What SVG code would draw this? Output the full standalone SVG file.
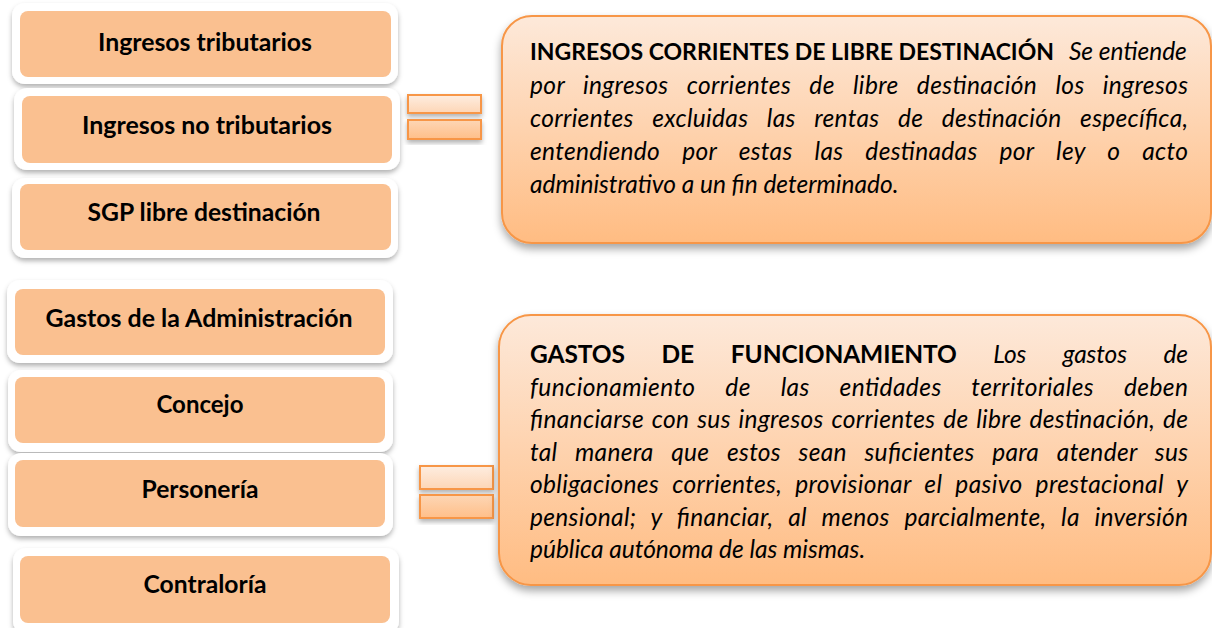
<svg xmlns="http://www.w3.org/2000/svg" width="1212" height="628" viewBox="0 0 1212 628">
<defs>
<linearGradient id="gBig" x1="0" y1="0" x2="0" y2="1"><stop offset="0" stop-color="#FDE9DA"/><stop offset="1" stop-color="#FFBC82"/></linearGradient>
<linearGradient id="gBarA" x1="0" y1="0" x2="0" y2="1"><stop offset="0" stop-color="#FEEDE0"/><stop offset="1" stop-color="#FDD6B6"/></linearGradient>
<linearGradient id="gBarB" x1="0" y1="0" x2="0" y2="1"><stop offset="0" stop-color="#FDD6B5"/><stop offset="1" stop-color="#FFBF89"/></linearGradient>
<filter id="sh" x="-10%" y="-20%" width="120%" height="150%"><feDropShadow dx="0" dy="3" stdDeviation="2.5" flood-color="#000" flood-opacity="0.3"/></filter>
<filter id="shBig" x="-5%" y="-5%" width="110%" height="115%"><feDropShadow dx="0" dy="5" stdDeviation="4" flood-color="#000" flood-opacity="0.35"/></filter>
</defs>
<style>
.outer{fill:#fff;filter:url(#sh)}
.inner{fill:#FAC090}
.lbl{font-family:Lato,"Open Sans",sans-serif;font-weight:700;font-size:24px;fill:#000;text-anchor:middle}
.big{fill:url(#gBig);stroke:#F79646;stroke-width:2;filter:url(#shBig)}
.bar{stroke:#F79646;stroke-width:2;filter:url(#sh)}
.barA{fill:url(#gBarA)}
.barB{fill:url(#gBarB)}
.txt{font-family:Lato,"Open Sans",sans-serif;font-size:24.5px;font-style:italic;fill:#000}
.b{font-weight:700;font-style:normal}
</style>

<g id="n-ingresos-tributarios">
<rect class="outer" x="12" y="3" width="386" height="81" rx="13"/>
<rect class="inner" x="20" y="11" width="371" height="66" rx="8"/>
<text class="lbl" x="205" y="51" textLength="214" lengthAdjust="spacingAndGlyphs">Ingresos tributarios</text>
</g>
<g id="n-ingresos-no-tributarios">
<rect class="outer" x="14" y="88" width="386" height="82" rx="13"/>
<rect class="inner" x="22" y="96" width="370" height="67" rx="8"/>
<text class="lbl" x="207" y="134" textLength="250" lengthAdjust="spacingAndGlyphs">Ingresos no tributarios</text>
</g>
<g id="n-sgp">
<rect class="outer" x="12" y="178" width="386" height="80" rx="13"/>
<rect class="inner" x="20" y="184" width="371" height="66" rx="8"/>
<text class="lbl" x="204" y="221" textLength="233" lengthAdjust="spacingAndGlyphs">SGP libre destinación</text>
</g>
<g id="n-gastos-admin">
<rect class="outer" x="7" y="280" width="386" height="83" rx="13"/>
<rect class="inner" x="15" y="289" width="370" height="66" rx="8"/>
<text class="lbl" x="199" y="327" textLength="307" lengthAdjust="spacingAndGlyphs">Gastos de la Administración</text>
</g>
<g id="n-concejo">
<rect class="outer" x="8" y="370" width="385" height="82" rx="13"/>
<rect class="inner" x="15" y="377" width="370" height="66" rx="8"/>
<text class="lbl" x="200" y="413" textLength="87" lengthAdjust="spacingAndGlyphs">Concejo</text>
</g>
<g id="n-personeria">
<rect class="outer" x="8" y="453" width="385" height="83" rx="13"/>
<rect class="inner" x="15" y="460" width="370" height="67" rx="8"/>
<text class="lbl" x="200" y="498" textLength="117" lengthAdjust="spacingAndGlyphs">Personería</text>
</g>
<g id="n-contraloria">
<rect class="outer" x="13" y="548" width="386" height="86" rx="13"/>
<rect class="inner" x="20" y="556" width="370" height="67" rx="8"/>
<text class="lbl" x="205" y="593" textLength="123" lengthAdjust="spacingAndGlyphs">Contraloría</text>
</g>

<g id="connectors">
<rect class="bar barA" x="408" y="95" width="73" height="18"/>
<rect class="bar barB" x="408" y="120" width="73" height="19"/>
<rect class="bar barA" x="420" y="466" width="73" height="23"/>
<rect class="bar barB" x="420" y="495" width="73" height="23"/>
</g>

<g id="n-icld">
<rect class="big" x="502" y="16" width="709" height="227" rx="30"/>
<text class="txt" y="60"><tspan class="b" x="530" font-size="23">INGRESOS CORRIENTES DE LIBRE DESTINACIÓN</tspan><tspan x="1069">Se entiende</tspan></text>
<text class="txt" x="530" y="94" word-spacing="12.1" textLength="658" lengthAdjust="spacing">por ingresos corrientes de libre destinación los ingresos</text>
<text class="txt" x="530" y="127" word-spacing="12.5" textLength="658" lengthAdjust="spacing">corrientes excluidas las rentas de destinación específica,</text>
<text class="txt" x="530" y="160" word-spacing="16" textLength="658" lengthAdjust="spacing">entendiendo por estas las destinadas por ley o acto</text>
<text class="txt" x="530" y="193">administrativo a un fin determinado.</text>
</g>

<g id="n-gastos-funcionamiento">
<rect class="big" x="499" y="315" width="712" height="270" rx="32"/>
<text class="txt" x="530" y="363" word-spacing="30.9" textLength="658" lengthAdjust="spacing"><tspan class="b">GASTOS DE FUNCIONAMIENTO</tspan> Los gastos de</text>
<text class="txt" x="530" y="396" word-spacing="23.7" textLength="658" lengthAdjust="spacing">funcionamiento de las entidades territoriales deben</text>
<text class="txt" x="530" y="428" word-spacing="1.7" textLength="658" lengthAdjust="spacing">financiarse con sus ingresos corrientes de libre destinación, de</text>
<text class="txt" x="530" y="461" word-spacing="11.6" textLength="658" lengthAdjust="spacing">tal manera que estos sean suficientes para atender sus</text>
<text class="txt" x="530" y="493" word-spacing="7" textLength="658" lengthAdjust="spacing">obligaciones corrientes, provisionar el pasivo prestacional y</text>
<text class="txt" x="530" y="526" word-spacing="8.7" textLength="658" lengthAdjust="spacing">pensional; y financiar, al menos parcialmente, la inversión</text>
<text class="txt" x="530" y="558">pública autónoma de las mismas.</text>
</g>
</svg>
